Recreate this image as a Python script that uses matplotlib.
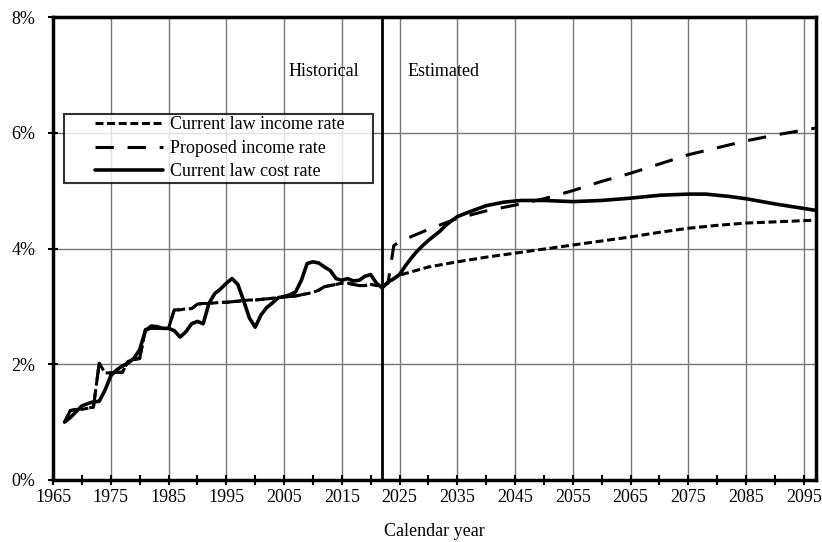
import numpy as np
import matplotlib
matplotlib.use("Agg")
import matplotlib.pyplot as plt
from matplotlib.lines import Line2D
from matplotlib.legend_handler import HandlerLine2D
from matplotlib.ticker import MultipleLocator, FuncFormatter

plt.rcParams['font.family'] = ['Liberation Serif', 'DejaVu Serif']

# Historical values (shared by both income rates)
hist_years = list(range(1967, 2023))
hist_income = [1.00, 1.20, 1.22, 1.22, 1.24, 1.26, 2.02, 1.85, 1.85, 1.86,
               1.86, 2.05, 2.08, 2.10, 2.60, 2.62, 2.62, 2.62, 2.62, 2.94,
               2.94, 2.96, 2.96, 3.04, 3.05, 3.05, 3.06, 3.07, 3.07, 3.08,
               3.09, 3.10, 3.11, 3.11, 3.12, 3.13, 3.14, 3.15, 3.16, 3.17,
               3.18, 3.20, 3.22, 3.24, 3.28, 3.34, 3.36, 3.38, 3.40, 3.40,
               3.38, 3.36, 3.36, 3.38, 3.36, 3.34]
hist_cost = [1.00, 1.08, 1.18, 1.28, 1.32, 1.35, 1.36, 1.55, 1.80, 1.90,
             1.97, 2.02, 2.10, 2.25, 2.58, 2.66, 2.65, 2.62, 2.62, 2.58,
             2.47, 2.56, 2.70, 2.74, 2.70, 3.05, 3.22, 3.30, 3.40, 3.48,
             3.38, 3.10, 2.80, 2.64, 2.85, 2.98, 3.06, 3.15, 3.17, 3.20,
             3.25, 3.45, 3.74, 3.77, 3.75, 3.68, 3.62, 3.48, 3.45, 3.48,
             3.44, 3.45, 3.52, 3.55, 3.40, 3.32]

# Projections
proj_cl_years = [2022, 2025, 2030, 2035, 2040, 2045, 2050, 2055, 2060, 2065,
                 2070, 2075, 2080, 2085, 2090, 2097]
proj_cl_income = [3.34, 3.54, 3.68, 3.77, 3.85, 3.92, 3.99, 4.06, 4.13, 4.20,
                  4.28, 4.35, 4.40, 4.44, 4.46, 4.49]

proj_prop_years = [2022, 2023, 2024, 2025, 2030, 2035, 2040, 2045, 2050, 2055,
                   2060, 2065, 2070, 2075, 2080, 2085, 2090, 2097]
proj_prop_income = [3.34, 3.40, 4.05, 4.12, 4.33, 4.52, 4.65, 4.75, 4.86, 5.00,
                    5.16, 5.30, 5.46, 5.62, 5.74, 5.86, 5.96, 6.08]

proj_cost_years = [2022, 2023, 2024, 2025, 2026, 2027, 2028, 2029, 2030, 2031,
                   2032, 2033, 2034, 2035, 2037, 2040, 2043, 2046, 2050, 2055,
                   2060, 2065, 2070, 2075, 2078, 2082, 2085, 2090, 2097]
proj_cost = [3.32, 3.42, 3.48, 3.55, 3.70, 3.83, 3.95, 4.05, 4.14, 4.22,
             4.30, 4.40, 4.48, 4.55, 4.63, 4.74, 4.80, 4.83, 4.83, 4.81,
             4.83, 4.87, 4.92, 4.94, 4.94, 4.90, 4.86, 4.77, 4.66]

transition_year = 2022

cl_years = hist_years + proj_cl_years[1:]
cl_income = hist_income + proj_cl_income[1:]
prop_years = hist_years + proj_prop_years[1:]
prop_income = hist_income + proj_prop_income[1:]
cost_years = hist_years + proj_cost_years[1:]
cost = hist_cost + proj_cost[1:]

fig = plt.figure(figsize=(8.22, 5.42), dpi=100)
ax = fig.add_axes([53/822, 1 - 480/542, (816 - 53)/822, (480 - 17)/542])

fs = 13
lw = 2.2
ax.plot(cl_years, cl_income, color='black', lw=lw, dashes=(2.6, 1.2),
        label='Current law income rate', zorder=4)
ax.plot(prop_years, prop_income, color='black', lw=lw, dashes=(6, 4.5),
        label='Proposed income rate', zorder=4)
ax.plot(cost_years, cost, color='black', lw=2.6, solid_capstyle='round',
        label='Current law cost rate', zorder=5)

ax.axvline(transition_year, color='black', lw=2, zorder=3)

ax.set_xlim(1965, 2097.1)
ax.set_ylim(0, 8)
ax.xaxis.set_major_locator(MultipleLocator(10))
ax.xaxis.set_minor_locator(MultipleLocator(5))
ax.yaxis.set_major_locator(MultipleLocator(2))
ax.yaxis.set_major_formatter(FuncFormatter(lambda v, p: f'{v:.0f}%'))
ax.set_xticks(np.arange(1965, 2096, 10))

ax.grid(True, which='major', color='#777777', lw=1)
ax.set_axisbelow(True)
ax.tick_params(axis='both', which='both', direction='inout', width=1.5,
               labelsize=fs, color='black')
ax.tick_params(axis='both', which='major', length=7)
ax.tick_params(axis='x', which='minor', length=7)
ax.tick_params(axis='x', pad=3)
ax.tick_params(axis='y', pad=9)
for s in ax.spines.values():
    s.set_linewidth(2.5)

ax.set_xlabel('Calendar year', fontsize=fs, labelpad=12)

ax.text(transition_year - 4, 7.05, 'Historical', ha='right', va='center', fontsize=fs)
ax.text(transition_year + 4.3, 7.05, 'Estimated', ha='left', va='center', fontsize=fs)

em = fs * 100 / 72
leg = ax.legend(loc='upper left', bbox_to_anchor=(0.0144, 0.791, 0.405, 0.0),
                mode='expand', fontsize=fs, frameon=True, fancybox=False,
                handlelength=96 / em, handletextpad=7 / em, borderpad=0.15,
                labelspacing=0.36, borderaxespad=0,
                handler_map={Line2D: HandlerLine2D(xpad=28 / em)})
leg.get_frame().set_edgecolor('black')
leg.get_frame().set_linewidth(1.5)
leg.set_zorder(6)

fig.savefig('out.png', dpi=100)
